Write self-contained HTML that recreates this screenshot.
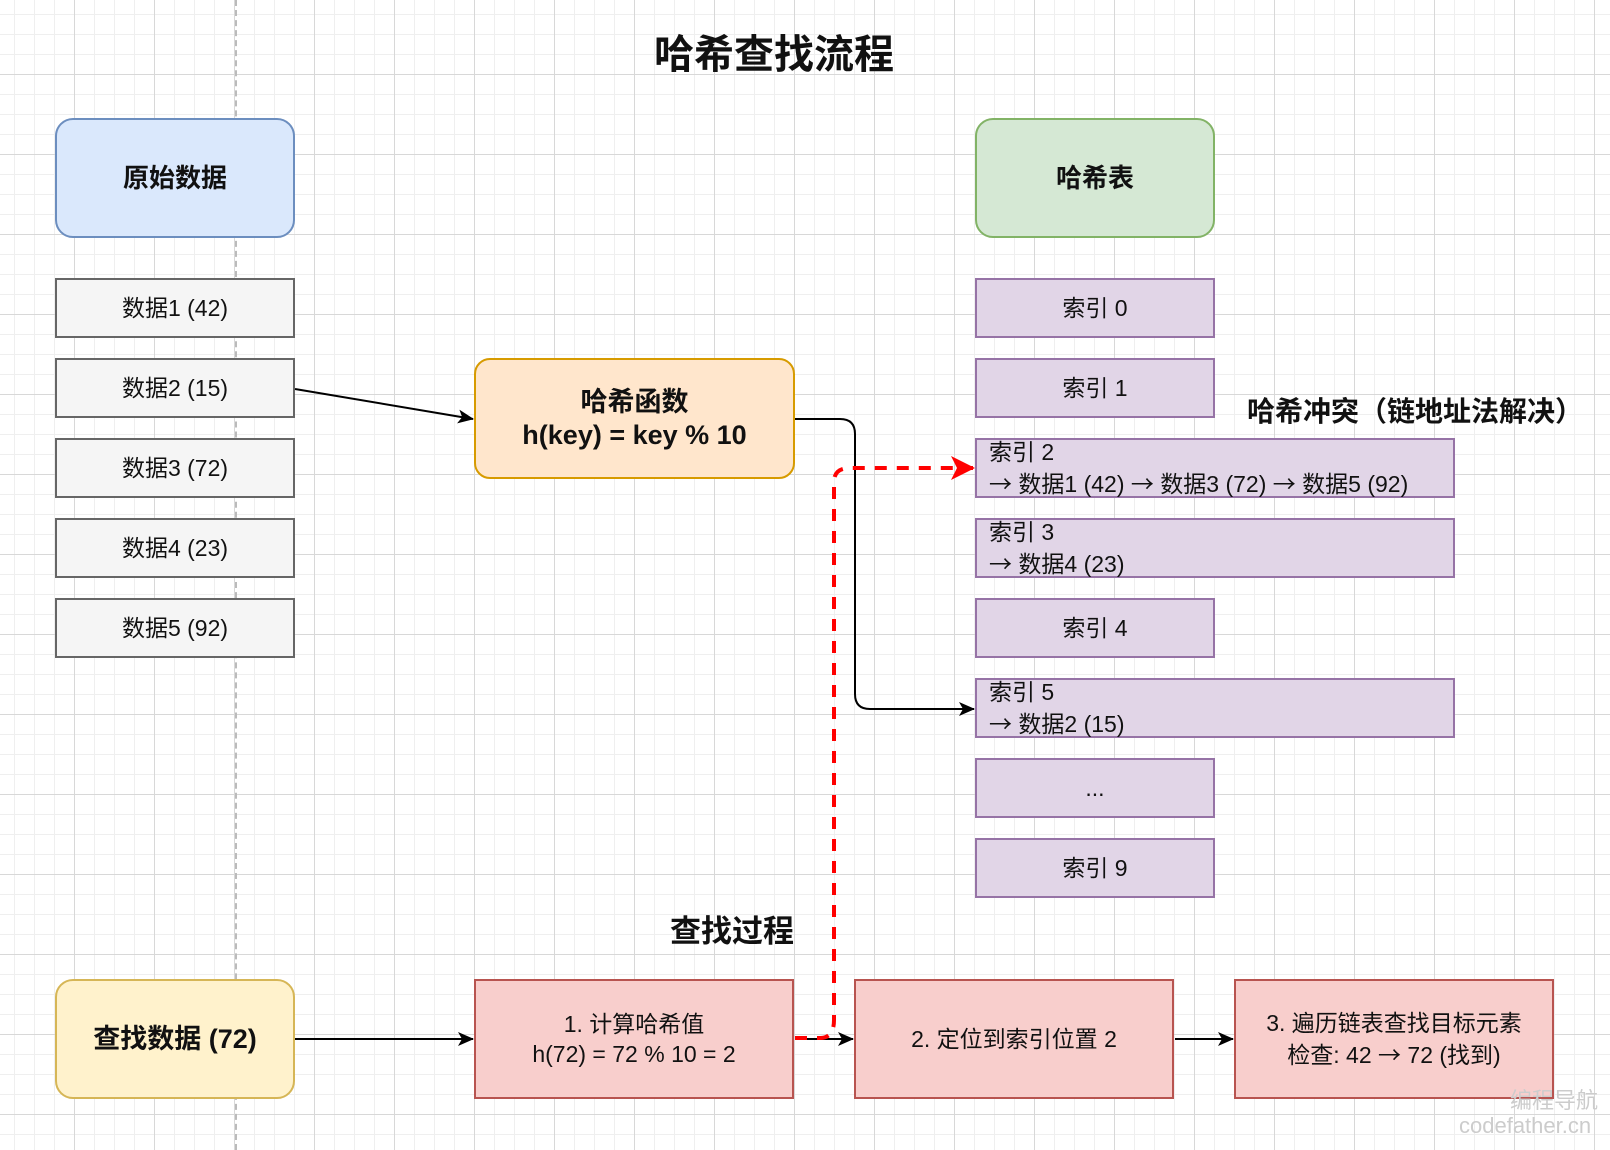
<!DOCTYPE html>
<html><head><meta charset="utf-8"><style>
html,body{margin:0;padding:0}
body{width:1610px;height:1150px;position:relative;overflow:hidden;background:#fff;
background-image:linear-gradient(#d8d8d8 1px,transparent 1px),linear-gradient(90deg,#d8d8d8 1px,transparent 1px),linear-gradient(#efefef 1px,transparent 1px),linear-gradient(90deg,#efefef 1px,transparent 1px);
background-size:80px 80px,80px 80px,20px 20px,20px 20px;background-position:-6px -6px,-6px -6px,-6px -6px,-6px -6px;
font-family:"Liberation Sans","Noto Sans CJK SC",sans-serif;color:#111}
.b{position:absolute;box-sizing:border-box;display:flex;align-items:center;justify-content:center;text-align:center;font-size:23px;line-height:30px}
.g{background:#f5f5f5;border:2px solid #666;width:240px;height:60px;left:55px}
.p{background:#e1d5e7;border:2px solid #9673a6;height:60px;left:975px;width:240px}
.w{width:480px;justify-content:flex-start;text-align:left;padding-left:12px}
.r{background:#f8cecc;border:2px solid #b85450;width:320px;height:120px;top:979px}
.t{position:absolute;font-weight:bold;white-space:nowrap}
.ar{font-family:"Noto Sans CJK SC",sans-serif}
</style></head><body>
<div style="position:absolute;left:235px;top:0;height:1150px;border-left:2px dashed #bbb"></div>
<div class="t" style="left:654px;top:22px;font-size:40px">哈希查找流程</div>
<div class="b" style="left:55px;top:118px;width:240px;height:120px;background:#dae8fc;border:2px solid #6c8ebf;border-radius:18px;font-weight:bold;font-size:26px">原始数据</div>
<div class="b g" style="top:278px">数据1 (42)</div>
<div class="b g" style="top:358px">数据2 (15)</div>
<div class="b g" style="top:438px">数据3 (72)</div>
<div class="b g" style="top:518px">数据4 (23)</div>
<div class="b g" style="top:598px">数据5 (92)</div>
<div class="b" style="left:474px;top:358px;width:321px;height:121px;background:#ffe6cc;border:2px solid #d79b00;border-radius:16px;font-weight:bold;font-size:27px;line-height:33px">哈希函数<br>h(key) = key % 10</div>
<div class="b" style="left:975px;top:118px;width:240px;height:120px;background:#d5e8d4;border:2px solid #82b366;border-radius:18px;font-weight:bold;font-size:26px">哈希表</div>
<div class="b p" style="top:278px">索引 0</div>
<div class="b p" style="top:358px">索引 1</div>
<div class="b p w" style="top:438px"><div>索引 2<br><span class="ar">→</span> 数据1 (42) <span class="ar">→</span> 数据3 (72) <span class="ar">→</span> 数据5 (92)</div></div>
<div class="b p w" style="top:518px"><div>索引 3<br><span class="ar">→</span> 数据4 (23)</div></div>
<div class="b p" style="top:598px">索引 4</div>
<div class="b p w" style="top:678px"><div>索引 5<br><span class="ar">→</span> 数据2 (15)</div></div>
<div class="b p" style="top:758px">...</div>
<div class="b p" style="top:838px">索引 9</div>
<div class="t" style="left:1247px;top:390px;font-size:28px">哈希冲突（链地址法解决）</div>
<div class="t" style="left:670px;top:906px;font-size:31px">查找过程</div>
<div class="b" style="left:55px;top:979px;width:240px;height:120px;background:#fff2cc;border:2px solid #d6b656;border-radius:18px;font-weight:bold;font-size:27px">查找数据 (72)</div>
<div class="b r" style="left:474px">1. 计算哈希值<br>h(72) = 72 % 10 = 2</div>
<div class="b r" style="left:854px">2. 定位到索引位置 2</div>
<div class="b r" style="left:1234px"><div>3. 遍历链表查找目标元素<br>检查: 42 <span class="ar">→</span> 72 (找到)</div></div>
<svg width="1610" height="1150" style="position:absolute;left:0;top:0">
<defs><marker id="a" markerWidth="16" markerHeight="16" refX="15" refY="8" orient="auto" markerUnits="userSpaceOnUse" viewBox="0 0 16 16"><path d="M0,1 L16,8 L0,15 L4,8z" fill="#000"/></marker>
<marker id="ra" markerWidth="24" markerHeight="24" refX="22" refY="12" orient="auto" markerUnits="userSpaceOnUse" viewBox="0 0 24 24"><path d="M0,0 L24,12 L0,24 L6,12z" fill="#f00"/></marker></defs>
<g fill="none" stroke="#000" stroke-width="2">
<path d="M295,389 L473,419" marker-end="url(#a)"/>
<path d="M795,419 L840,419 Q855,419 855,434 L855,694 Q855,709 870,709 L974,709" marker-end="url(#a)"/>
<path d="M295,1039 L473,1039" marker-end="url(#a)"/>
<path d="M795,1039 L853,1039" marker-end="url(#a)"/>
<path d="M1175,1039 L1233,1039" marker-end="url(#a)"/>
</g>
<path d="M795,1038 L820,1038 Q834,1038 834,1020 L834,482 Q834,468 850,468 L973,468" fill="none" stroke="#f00" stroke-width="4" stroke-dasharray="12,10" marker-end="url(#ra)"/>
</svg>
<div style="position:absolute;left:1510px;top:1083px;font-size:22px;color:#ccc">编程导航</div>
<div style="position:absolute;left:1459px;top:1113px;font-size:22px;color:#ccc">codefather.cn</div>
</body></html>
